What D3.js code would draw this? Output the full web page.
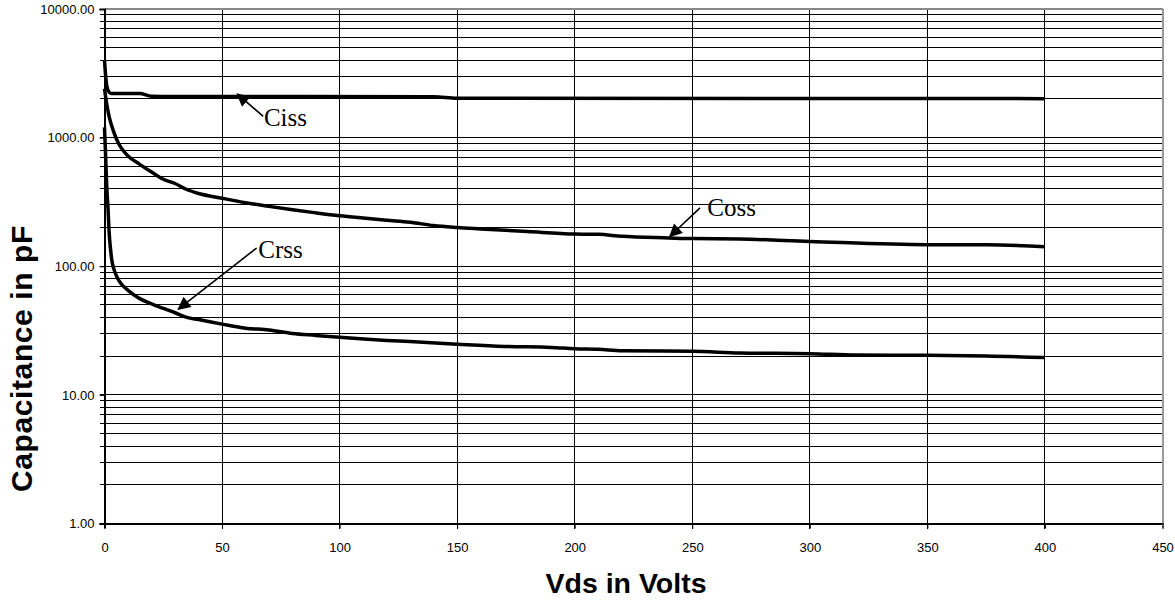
<!DOCTYPE html>
<html>
<head>
<meta charset="utf-8">
<script src="https://cdn.jsdelivr.net/npm/d3@7"></script>
<style>
  body { margin: 0; background: #fff; }
  svg { display: block; }
</style>
</head>
<body>
<div id="chart"></div>
<script>
// Vds values (volts) and capacitance readings (pF)
var cissVds = [0, 0.5, 1, 2, 3, 15, 20, 30, 140, 150, 400];
var cissVal = [4000, 3000, 2500, 2250, 2200, 2200, 2100, 2090, 2080, 2020, 2010];

var cossVds = [0, 1, 2, 4, 6, 8, 10, 15, 20, 25, 30, 35, 40, 50, 60, 70, 80, 90, 100, 110, 120, 130, 140, 150, 160, 180, 200, 210, 220, 240, 250, 270, 300, 350, 375, 400];
var cossVal = [2400, 1800, 1450, 1100, 900, 790, 720, 620, 540, 475, 440, 395, 368, 338, 312, 292, 275, 260, 247, 237, 228, 220, 207, 200, 195, 186, 178, 177, 171, 166, 164, 163, 156, 147, 147, 142];

var crssVds = [0, 0.5, 1, 1.5, 2, 2.5, 3, 4, 5, 6, 8, 10, 15, 20, 25, 30, 35, 40, 50, 60, 70, 80, 90, 100, 120, 130, 150, 170, 190, 200, 210, 220, 250, 270, 300, 320, 350, 375, 400];
var crssVal = [1200, 700, 400, 280, 180, 140, 115, 95, 85, 78, 70, 65, 56, 51, 47, 43.5, 40, 38.5, 35.5, 33, 32, 30, 29, 28, 26.5, 26, 24.8, 23.8, 23.4, 22.8, 22.6, 22, 21.8, 21.2, 20.9, 20.4, 20.3, 20.1, 19.5];

var xTicks = [0, 50, 100, 150, 200, 250, 300, 350, 400, 450];
var yMajor = [1, 10, 100, 1000, 10000];

// annotations: label, arrow tip (vds, pF), arrow tail, text anchor
var notes = [
  {label: "Ciss", tipX: 56.5, tipY: 2180, fromX: 67.5, fromY: 1465, textX: 67.8, textY: 1224},
  {label: "Coss", tipX: 240.5, tipY: 171, fromX: 253.3, fromY: 284, textX: 256.4, textY: 244},
  {label: "Crss", tipX: 31.4, tipY: 46.4, fromX: 64.7, fromY: 138.6, textX: 65.4, textY: 115.8}
];

var W = 1175, H = 602;
var pl = 104.5, pr = 1162.5, pt = 9, pb = 523.5;

var svg = d3.select("#chart").append("svg")
  .attr("width", W).attr("height", H);

var x = d3.scaleLinear().domain([0, 450]).range([pl, pr]);
var y = d3.scaleLog().domain([1, 10000]).range([pb, pt]);

// all log gridlines 1..10000
var yGrid = [];
yMajor.slice(0, -1).forEach(function(m) {
  for (var k = 1; k < 10; k++) yGrid.push(m * k);
});
yGrid.push(10000);

var grid = svg.append("g").attr("shape-rendering", "crispEdges");

grid.selectAll(".hg").data(yGrid).enter().append("line")
  .attr("x1", pl - 5).attr("x2", pr)
  .attr("y1", function(d) { return y(d); })
  .attr("y2", function(d) { return y(d); })
  .style("stroke", "#000").style("stroke-width", 1);

grid.selectAll(".vg").data(xTicks.slice(1, -1)).enter().append("line")
  .attr("x1", function(d) { return x(d); })
  .attr("x2", function(d) { return x(d); })
  .attr("y1", pt).attr("y2", pb + 5)
  .style("stroke", "#000").style("stroke-width", 1);

// plot frame: grey top / right, black axes
grid.append("line").attr("x1", pl).attr("x2", pr).attr("y1", pt).attr("y2", pt)
  .style("stroke", "#888").style("stroke-width", 1.5);
grid.append("line").attr("x1", pr).attr("x2", pr).attr("y1", pt).attr("y2", pb)
  .style("stroke", "#999").style("stroke-width", 2);

var xAxis = svg.append("g")
  .attr("transform", "translate(0," + pb + ")")
  .call(d3.axisBottom(x).tickValues(xTicks).tickSize(5).tickPadding(14)
    .tickFormat(d3.format("d")));
var yAxis = svg.append("g")
  .attr("transform", "translate(" + pl + ",0)")
  .call(d3.axisLeft(y).tickValues(yMajor).tickSize(5).tickPadding(5)
    .tickFormat(d3.format(".2f")));

[xAxis, yAxis].forEach(function(a) {
  a.select(".domain").style("stroke", "#000").style("stroke-width", 2);
  a.selectAll(".tick line").style("stroke", "#000");
  a.selectAll("text").style("font-family", "Liberation Sans, Arial, sans-serif")
    .style("font-size", "13px").style("fill", "#000");
});
xAxis.select(".tick:last-child line").style("stroke", "#999");

// curves
var line = d3.line()
  .x(function(d) { return x(d[0]); })
  .y(function(d) { return y(d[1]); })
  .curve(d3.curveMonotoneX);

[[cissVds, cissVal], [cossVds, cossVal], [crssVds, crssVal]].forEach(function(s) {
  var pts = s[0].map(function(v, i) { return [v, s[1][i]]; });
  svg.append("path").datum(pts)
    .attr("d", line)
    .style("fill", "none").style("stroke", "#000")
    .style("stroke-width", 3.5).style("stroke-linejoin", "round");
});

// arrow annotations
svg.append("defs").append("marker")
  .attr("id", "head").attr("viewBox", "0 0 10 10")
  .attr("refX", 9).attr("refY", 5)
  .attr("markerWidth", 17).attr("markerHeight", 13)
  .attr("markerUnits", "userSpaceOnUse")
  .attr("orient", "auto")
  .append("path").attr("d", "M0,0 L10,5 L0,10 Z").style("fill", "#000");

notes.forEach(function(n) {
  svg.append("line")
    .attr("x1", x(n.fromX)).attr("y1", y(n.fromY))
    .attr("x2", x(n.tipX)).attr("y2", y(n.tipY))
    .style("stroke", "#000").style("stroke-width", 1.6)
    .attr("marker-end", "url(#head)");
  svg.append("text")
    .attr("x", x(n.textX)).attr("y", y(n.textY))
    .text(n.label)
    .style("font-family", "Liberation Serif, Times New Roman, serif")
    .style("font-size", "25px").style("fill", "#000");
});

// axis titles
svg.append("text")
  .attr("x", 626).attr("y", 593)
  .attr("text-anchor", "middle")
  .text("Vds in Volts")
  .style("font-family", "Liberation Sans, Arial, sans-serif")
  .style("font-weight", "bold").style("font-size", "28.5px");

svg.append("text")
  .attr("transform", "translate(32,358.5) rotate(-90)")
  .attr("text-anchor", "middle")
  .text("Capacitance in pF")
  .style("font-family", "Liberation Sans, Arial, sans-serif")
  .style("letter-spacing", "0.6px")
  .style("font-weight", "bold").style("font-size", "30px");
</script>
</body>
</html>
